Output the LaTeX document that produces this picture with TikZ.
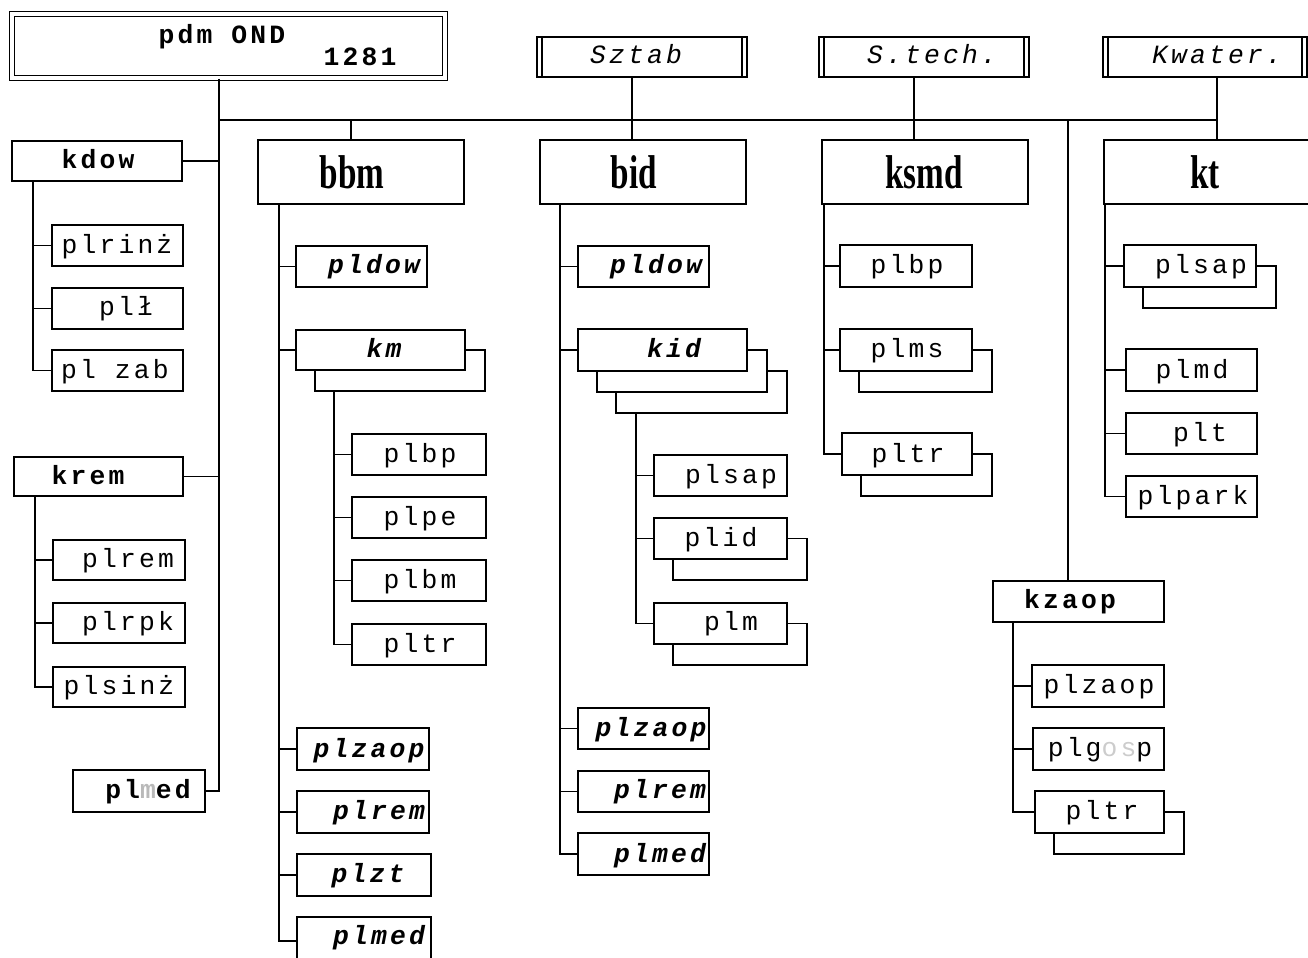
\documentclass[tikz,border=0pt]{standalone}
\usepackage{fontspec}
\usetikzlibrary{fit,calc}
\newfontfamily\monof[LetterSpace=12]{Liberation Mono}
\newfontfamily\condf[FakeStretch=0.7]{Liberation Serif}
\newcommand\chl[2]{\draw (#2.west) -- (#2.west -| #1,0);}
\newcommand\shd[1]{\draw (#1.east) -- ++(20,0) |- ($(#1.south west)+(19,21)$) -- ($(#1.south west)+(19,0)$);}
\tikzset{
  boxst/.style={draw, inner sep=0pt, outer sep=0pt, line width=1pt},
  txt/.style={font={\monof\fontsize{15}{17}\selectfont}, inner sep=0pt, text height=10pt, text depth=3pt},
  txtb/.style={txt, font={\monof\fontsize{15}{17}\selectfont\bfseries}},
  txti/.style={txt, font={\monof\fontsize{15}{17}\selectfont\itshape}},
  txtbi/.style={txt, font={\monof\fontsize{15}{17}\selectfont\bfseries\itshape}},
  bigtxt/.style={font={\condf\fontsize{27}{30}\selectfont\bfseries}, inner sep=0pt},
}
\newcommand\bx[6]{\node[boxst, fit={(#2,#3)(#4,#5)}] (#1) {}; }
\begin{document}
\begin{tikzpicture}[x=0.02cm, y=-0.02cm, line width=1pt]
\useasboundingbox (0,0) rectangle (1308,957);
% top boxes
\node[draw, double, double distance=2pt, line width=0.9pt, inner sep=0pt, fit={(12,14)(445,78)}] (title) {};
\node[txtb] at (222,37) {pdm OND};
\node[txtb] at (360,59) {1281};
\bx{sztab}{537}{37}{747}{77}{}
\bx{stech}{819}{37}{1029}{77}{}
\bx{kwater}{1103}{37}{1307}{77}{}
\foreach \n in {sztab,stech,kwater}{
  \draw ([xshift=0.1cm]\n.north west) -- ([xshift=0.1cm]\n.south west);
  \draw ([xshift=-0.1cm]\n.north east) -- ([xshift=-0.1cm]\n.south east);
}
\node[txti] at (636,57) {Sztab};
\node[txti] at (932,57) {S.tech.};
\node[txti] at (1217,57) {Kwater.};
% big boxes
\bx{bbm}{258}{140}{464}{204}{}
\bx{bid}{540}{140}{746}{204}{}
\bx{ksmd}{822}{140}{1028}{204}{}
\bx{kt}{1104}{140}{1316}{204}{}
\node[bigtxt] at (352,172) {bbm};
\node[bigtxt] at (634,172) {bid};
\node[bigtxt] at (924,172) {ksmd};
\node[bigtxt] at (1205,172) {kt};
% left column
\bx{kdow}{12}{141}{182}{181}{}
\node[txtb] at (98,162) {kdow};
\bx{plrinz}{52}{225}{183}{266}{}
\node[txt] at (117,247) {plrinż};
\bx{plL}{52}{288}{183}{329}{}
\node[txt] at (126,309) {plł};
\bx{plzab}{52}{350}{183}{391}{}
\node[txt] at (115,372) {pl zab};
\bx{krem}{14}{457}{183}{496}{}
\node[txtb] at (88,478) {krem};
\bx{plremA}{53}{540}{185}{580}{}
\node[txt] at (128,561) {plrem};
\bx{plrpk}{53}{603}{185}{643}{}
\node[txt] at (128,624) {plrpk};
\bx{plsinz}{53}{667}{185}{707}{}
\node[txt] at (119,688) {plsinż};
\bx{plmedA}{73}{770}{205}{812}{}
\node[txtb] at (148,792) {pl{\color{gray!55}m}ed};
% bbm column
\bx{pldowB}{296}{246}{427}{287}{}
\node[txtbi] at (374,267) {pldow};
\bx{km}{296}{330}{465}{370}{}
\node[txtbi] at (384,351) {km};
\bx{plbpB}{352}{434}{486}{475}{}
\node[txt] at (420,456) {plbp};
\bx{plpe}{352}{497}{486}{538}{}
\node[txt] at (420,519) {plpe};
\bx{plbm}{352}{560}{486}{601}{}
\node[txt] at (420,582) {plbm};
\bx{pltrB}{352}{624}{486}{665}{}
\node[txt] at (420,646) {pltr};
\bx{plzaopB}{297}{728}{429}{770}{}
\node[txtbi] at (369,751) {plzaop};
\bx{plremB}{297}{791}{429}{833}{}
\node[txtbi] at (379,813) {plrem};
\bx{plzt}{297}{854}{431}{896}{}
\node[txtbi] at (368,876) {plzt};
\bx{plmedB}{297}{917}{431}{965}{}
\node[txtbi] at (379,938) {plmed};
% bid column
\bx{pldowC}{578}{246}{709}{287}{}
\node[txtbi] at (656,267) {pldow};
\bx{kid}{578}{329}{747}{371}{}
\node[txtbi] at (674,351) {kid};
\bx{plsapC}{654}{455}{787}{496}{}
\node[txt] at (731,477) {plsap};
\bx{plid}{654}{518}{787}{559}{}
\node[txt] at (721,540) {plid};
\bx{plm}{654}{603}{787}{644}{}
\node[txt] at (731,624) {plm};
\bx{plzaopC}{578}{708}{709}{749}{}
\node[txtbi] at (651,730) {plzaop};
\bx{plremC}{578}{771}{709}{812}{}
\node[txtbi] at (660,792) {plrem};
\bx{plmedC}{578}{833}{709}{875}{}
\node[txtbi] at (660,856) {plmed};
% ksmd column
\bx{plbpD}{840}{245}{972}{287}{}
\node[txt] at (907,267) {plbp};
\bx{plms}{840}{329}{972}{371}{}
\node[txt] at (907,351) {plms};
\bx{pltrD}{842}{433}{972}{475}{}
\node[txt] at (908,456) {pltr};
% kt column
\bx{plsapE}{1124}{245}{1256}{287}{}
\node[txt] at (1201,267) {plsap};
\bx{plmd}{1126}{349}{1257}{391}{}
\node[txt] at (1192,372) {plmd};
\bx{plt}{1126}{413}{1257}{454}{}
\node[txt] at (1200,435) {plt};
\bx{plpark}{1126}{476}{1257}{517}{}
\node[txt] at (1193,498) {plpark};
% kzaop column
\bx{kzaop}{993}{581}{1164}{622}{}
\node[txtb] at (1070,602) {kzaop};
\bx{plzaopF}{1032}{665}{1164}{707}{}
\node[txt] at (1099,687) {plzaop};
\bx{plgosp}{1033}{728}{1164}{770}{}
\node[txt] at (1100,750) {plg{\color{gray!40}os}p};
\bx{pltrF}{1035}{791}{1164}{833}{}
\node[txt] at (1102,813) {pltr};
% main connectors
\coordinate (J) at (219,120);
\draw (title.south -| J) |- (plmedA.east);
\draw (J) -- (J -| 1217,0);
\draw (kwater.south -| 1217,0) -- (kt.north -| 1217,0);
\draw (sztab.south -| 632,0) -- (bid.north -| 632,0);
\draw (stech.south -| 914,0) -- (ksmd.north -| 914,0);
\draw (J -| 351,0) -- (bbm.north -| 351,0);
\draw (J -| 1068,0) -- (kzaop.north -| 1068,0);
\draw (kdow.east) -- (kdow.east -| J);
\draw (krem.east) -- (krem.east -| J);
% left trunks
\draw (kdow.south -| 33,0) |- (plzab.west);
\chl{33}{plrinz} \chl{33}{plL}
\draw (krem.south -| 35,0) |- (plsinz.west);
\chl{35}{plremA} \chl{35}{plrpk}
% bbm trunk
\draw (bbm.south -| 279,0) |- (plmedB.west);
\chl{279}{pldowB} \chl{279}{km} \chl{279}{plzaopB} \chl{279}{plremB} \chl{279}{plzt}
\shd{km}
\draw ($(km.south west)+(38,21)$) |- (pltrB.west);
\chl{334}{plbpB} \chl{334}{plpe} \chl{334}{plbm}
% bid trunk
\draw (bid.south -| 560,0) |- (plmedC.west);
\chl{560}{pldowC} \chl{560}{kid} \chl{560}{plzaopC} \chl{560}{plremC}
\shd{kid}
\draw ($(kid.south east)+(20,0)$) -- ++(20,0) |- ($(kid.south west)+(38,42)$) -- ($(kid.south west)+(38,21)$);
\draw ($(kid.south west)+(58,42)$) |- (plm.west);
\chl{636}{plsapC} \chl{636}{plid}
\shd{plid} \shd{plm}
% ksmd trunk
\draw (ksmd.south -| 824,0) |- (pltrD.west);
\chl{824}{plbpD} \chl{824}{plms}
\shd{plms} \shd{pltrD}
% kt trunk
\draw (kt.south -| 1105,0) |- (plpark.west);
\chl{1105}{plsapE} \chl{1105}{plmd} \chl{1105}{plt}
\shd{plsapE}
% kzaop trunk
\draw (kzaop.south -| 1013,0) |- (pltrF.west);
\chl{1013}{plzaopF} \chl{1013}{plgosp}
\shd{pltrF}
\end{tikzpicture}
\end{document}
